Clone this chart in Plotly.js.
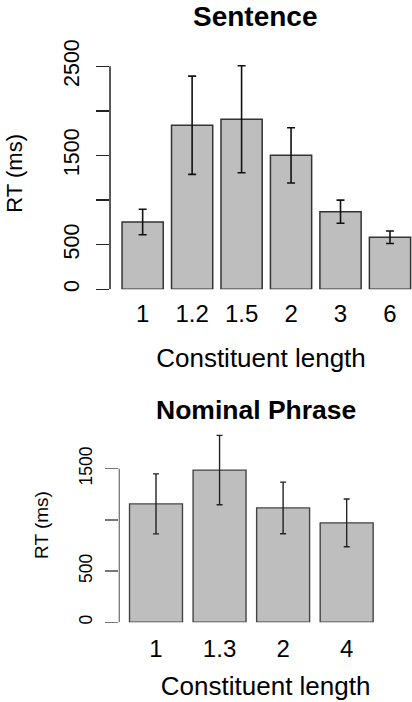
<!DOCTYPE html>
<html><head><meta charset="utf-8">
<script src="https://cdn.plot.ly/plotly-3.0.1.min.js"></script>
<style>html,body{margin:0;padding:0;background:#fff}#chart{width:412px;height:702px}</style>
</head><body><div id="chart"></div>
<script>
// Sentence panel
const sentenceLabels = ['1', '1.2', '1.5', '2', '3', '6'];
const sentenceRT = [755, 1839, 1906, 1502, 870, 583];
const sentenceErr = [143, 551, 600, 310, 130, 70];
const sentenceYTicks = [0, 500, 1000, 1500, 2000, 2500];
const sentenceYTickText = ['0', '500', '', '1500', '', '2500'];

// Nominal Phrase panel
const nominalLabels = ['1', '1.3', '2', '4'];
const nominalRT = [1156, 1486, 1117, 971];
const nominalErr = [293, 339, 252, 233];
const nominalYTicks = [0, 500, 1000, 1500];
const nominalYTickText = ['0', '500', '', '1500'];

const FONT = 'Liberation Sans, Arial, Helvetica, sans-serif';
const W = 412, H = 702;
const px = v => v / W;
const py = v => (H - v) / H;

const traces = [
  {
    type: 'bar', x: sentenceLabels, y: sentenceRT, xaxis: 'x', yaxis: 'y',
    cliponaxis: false, hoverinfo: 'skip',
    marker: {color: '#bebebe', line: {color: '#333333', width: 1.5}},
    error_y: {type: 'data', array: sentenceErr, visible: true, color: '#111111', thickness: 1.6, width: 4}
  },
  {
    type: 'bar', x: nominalLabels, y: nominalRT, xaxis: 'x2', yaxis: 'y2',
    cliponaxis: false, hoverinfo: 'skip',
    marker: {color: '#bebebe', line: {color: '#444444', width: 1.4}},
    error_y: {type: 'data', array: nominalErr, visible: true, color: '#222222', thickness: 1.4, width: 3}
  }
];

const common = {showgrid: false, zeroline: false, fixedrange: true};

const layout = {
  width: W, height: H,
  margin: {l: 0, r: 0, t: 0, b: 0},
  paper_bgcolor: '#ffffff', plot_bgcolor: '#ffffff',
  font: {family: FONT, color: '#000000'},
  showlegend: false,
  bargap: 0.1667,
  xaxis: Object.assign({}, common, {
    domain: [px(110), 1], type: 'category', range: [-0.66, 5.445],
    showline: false, ticks: '', anchor: 'y',
    tickfont: {size: 24, family: FONT, color: '#000'},
    ticklabelstandoff: 8,
    title: {text: 'Constituent length', font: {size: 26, family: FONT, color: '#000'}, standoff: 22}
  }),
  yaxis: Object.assign({}, common, {
    domain: [py(289.3), py(57.4)], range: [0, 2600], anchor: 'x',
    tickvals: sentenceYTicks, ticktext: sentenceYTickText,
    ticks: 'outside', ticklen: 13, tickwidth: 1.5, tickcolor: '#222',
    showline: false,
    tickangle: -90, tickfont: {size: 21.5, family: FONT, color: '#000'},
    ticklabelstandoff: 8,
    title: {text: 'RT (ms)', font: {size: 22, family: FONT, color: '#000'}, standoff: 31}
  }),
  xaxis2: Object.assign({}, common, {
    domain: [px(119.3), 1], type: 'category', range: [-0.5775, 4.028],
    showline: false, ticks: '', anchor: 'y2',
    tickfont: {size: 24, family: FONT, color: '#000'},
    ticklabelstandoff: 10,
    title: {text: 'Constituent length', font: {size: 26, family: FONT, color: '#000'}, standoff: 15}
  }),
  yaxis2: Object.assign({}, common, {
    domain: [py(622.3), py(427.7)], range: [0, 1900], anchor: 'x2',
    tickvals: nominalYTicks, ticktext: nominalYTickText,
    ticks: 'outside', ticklen: 13, tickwidth: 1.3, tickcolor: '#777',
    showline: false,
    tickangle: -90, tickfont: {size: 17.5, family: FONT, color: '#000'},
    ticklabelstandoff: 6,
    title: {text: 'RT (ms)', font: {size: 19, family: FONT, color: '#000'}, standoff: 22}
  }),
  shapes: [
    {type: 'line', xref: 'x domain', yref: 'y', x0: 0, x1: 0, y0: 0, y1: 2500,
     line: {color: '#222', width: 1.5}},
    {type: 'line', xref: 'x2 domain', yref: 'y2', x0: 0, x1: 0, y0: 0, y1: 1500,
     line: {color: '#777', width: 1.3}}
  ],
  annotations: [
    {text: 'Sentence', xref: 'paper', yref: 'paper', x: px(255.5), y: py(17), xanchor: 'center', yanchor: 'middle',
     showarrow: false, font: {size: 28, family: FONT, color: '#000', weight: 'bold'}},
    {text: 'Nominal Phrase', xref: 'paper', yref: 'paper', x: px(255.5), y: py(410), xanchor: 'center', yanchor: 'middle',
     showarrow: false, font: {size: 26.5, family: FONT, color: '#000', weight: 'bold'}}
  ]
};

Plotly.newPlot('chart', traces, layout, {staticPlot: true, displayModeBar: false});
</script>
</body></html>
